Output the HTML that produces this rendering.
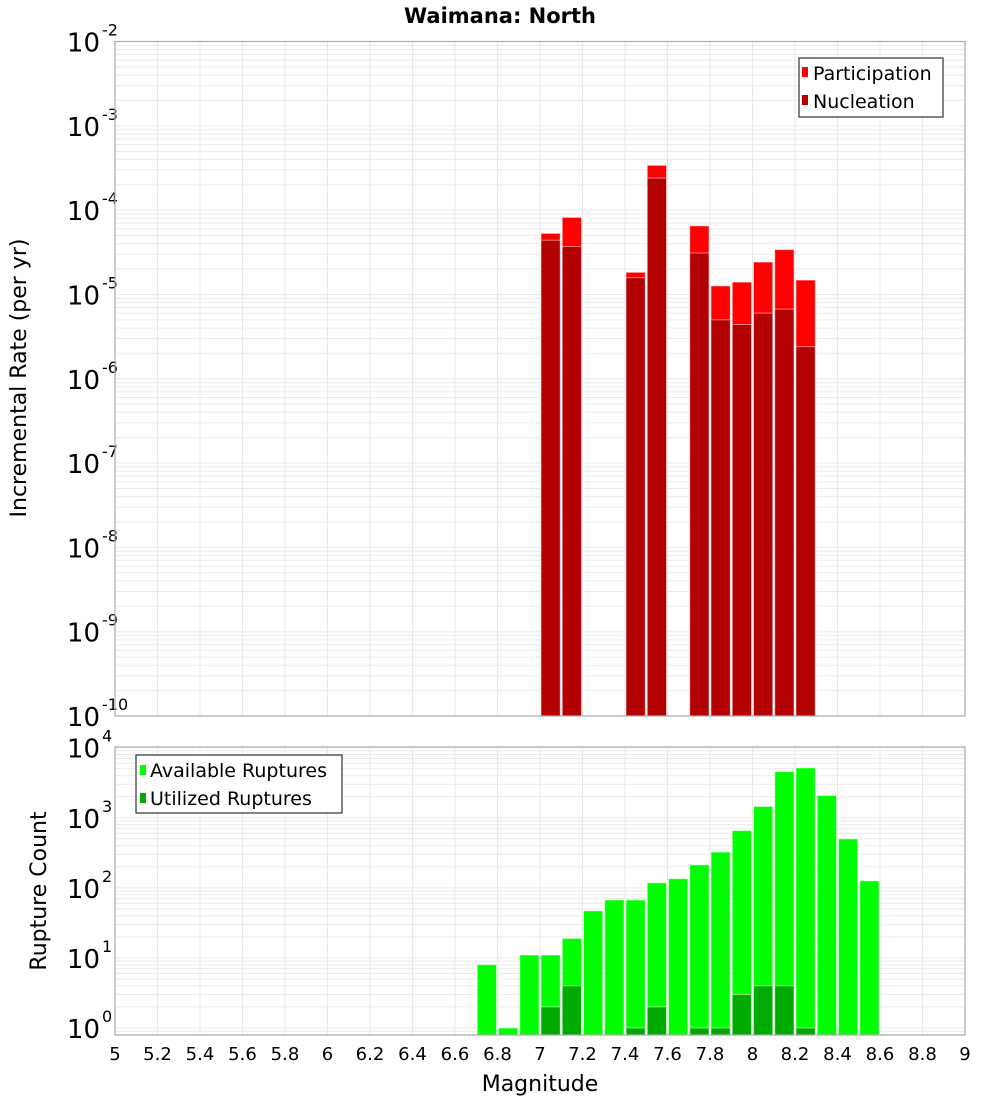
<!DOCTYPE html>
<html><head><meta charset="utf-8"><style>
body{margin:0;background:#fff;}
svg{display:block;font-family:"DejaVu Sans","Liberation Sans",sans-serif;}
</style></head><body>
<svg id="chart" width="1000" height="1100" viewBox="0 0 1000 1100">
<text x="500" y="23" text-anchor="middle" font-size="21" font-weight="bold">Waimana: North</text>
<g id="top"></g>
<g id="bot"></g>
<text transform="translate(26,378) rotate(-90)" text-anchor="middle" font-size="22">Incremental Rate (per yr)</text>
<text transform="translate(46,891) rotate(-90)" text-anchor="middle" font-size="22">Rupture Count</text>
<text x="540" y="1091" text-anchor="middle" font-size="22">Magnitude</text>
<g>
<rect x="799" y="58" width="144" height="59" fill="#fff" stroke="#333" stroke-width="1.2"/>
<rect x="802" y="67" width="6" height="10" fill="#ff0000"/>
<text x="813" y="80" font-size="19">Participation</text>
<rect x="802" y="95" width="6" height="10" fill="#b30000"/>
<text x="813" y="108" font-size="19">Nucleation</text>
</g>
<g>
<rect x="136" y="755" width="206" height="58" fill="#fff" stroke="#333" stroke-width="1.2"/>
<rect x="140" y="765" width="6" height="10" fill="#00ff00"/>
<text x="150" y="777" font-size="19">Available Ruptures</text>
<rect x="140" y="793" width="6" height="10" fill="#00aa00"/>
<text x="150" y="805" font-size="19">Utilized Ruptures</text>
</g>
</svg>
<script>
const rateMags=[7.05,7.15,7.45,7.55,7.75,7.85,7.95,8.05,8.15,8.25];
const participation=[5.3e-5,8.2e-5,1.83e-5,3.4e-4,6.5e-5,1.26e-5,1.4e-5,2.42e-5,3.4e-5,1.48e-5];
const nucleation=[4.4e-5,3.7e-5,1.58e-5,2.4e-4,3.1e-5,5.0e-6,4.4e-6,6.0e-6,6.7e-6,2.4e-6];
const countMags=[6.75,6.85,6.95,7.05,7.15,7.25,7.35,7.45,7.55,7.65,7.75,7.85,7.95,8.05,8.15,8.25,8.35,8.45,8.55];
const available=[8,1,11,11,19,47,67,67,118,135,213,324,656,1450,4550,5150,2080,500,126];
const utilized=[0,0,0,2,4,0,0,1,2,0,1,1,3,4,4,1,0,0,0];
const xTicks=[5,5.2,5.4,5.6,5.8,6,6.2,6.4,6.6,6.8,7,7.2,7.4,7.6,7.8,8,8.2,8.4,8.6,8.8,9];
const topDecades=[-2,-3,-4,-5,-6,-7,-8,-9,-10];
const botDecades=[0,1,2,3,4];

const NS='http://www.w3.org/2000/svg';
const X0=115,X1=965;
const x=m=>X0+(m-5)/4*(X1-X0);
const T={top:41.5,bot:716,lmax:-2,lmin:-10};
const B={top:747,bot:1035,lmax:4.01,lmin:-0.1};
const yS=(P,v)=>P.top+(P.lmax-Math.log10(v))/(P.lmax-P.lmin)*(P.bot-P.top);
function mk(p,tag,a){const e=document.createElementNS(NS,tag);for(const k in a)e.setAttribute(k,a[k]);p.appendChild(e);return e;}

function frame(g,P,decades,prefix){
  for(let d=Math.floor(P.lmin);d<=Math.ceil(P.lmax);d++){
    for(let k=1;k<10;k++){
      const y=yS(P,k*Math.pow(10,d));
      if(y<P.top-0.5||y>P.bot+0.5)continue;
      const l=mk(g,'line',{x1:X0,x2:X1,y1:y,y2:y,stroke:'#ebebeb','stroke-width':1});
      
      
    }
  }
  xTicks.forEach(t=>{
    const l=mk(g,'line',{x1:x(t),x2:x(t),y1:P.top,y2:P.bot,stroke:'#e8e8e8','stroke-width':1});
    
    
  });
  decades.forEach(d=>{
    const y=yS(P,Math.pow(10,d));
    const t=mk(g,'text',{x:100,y:y+10,'text-anchor':'end','font-size':26});
    
    
    t.textContent='10';
    const s=mk(g,'text',{x:102,y:y-6,'font-size':16});
    
    
    s.textContent=String(d);
  });
}
function bars(g,P,mags,vals,color,name){
  mags.forEach((m,i)=>{
    if(!(vals[i]>0))return;
    const y=yS(P,vals[i]);
    const r=mk(g,'rect',{x:x(m-0.05)+1,y:y,width:x(m+0.05)-x(m-0.05)-2,height:P.bot-y,fill:color,stroke:'rgba(255,255,255,0.5)','stroke-width':1});
    
    
  });
}
const gt=document.getElementById('top'),gb=document.getElementById('bot');
frame(gt,T,topDecades,'top');
bars(gt,T,rateMags,participation,'#ff0000','bar-participation');
bars(gt,T,rateMags,nucleation,'#b30000','bar-nucleation');
mk(gt,'rect',{x:X0,y:T.top,width:X1-X0,height:T.bot-T.top,fill:'none',stroke:'#aaa','stroke-width':1.2});
frame(gb,B,botDecades,'bottom');
bars(gb,B,countMags,available,'#00ff00','bar-available');
bars(gb,B,countMags,utilized,'#00aa00','bar-utilized');
mk(gb,'rect',{x:X0,y:B.top,width:X1-X0,height:B.bot-B.top,fill:'none',stroke:'#aaa','stroke-width':1.2});
xTicks.forEach(t=>{
  const e=mk(gb,'text',{x:x(t),y:1060,'text-anchor':'middle','font-size':18});
  
  
  e.textContent=String(t);
});
</script>
</body></html>
